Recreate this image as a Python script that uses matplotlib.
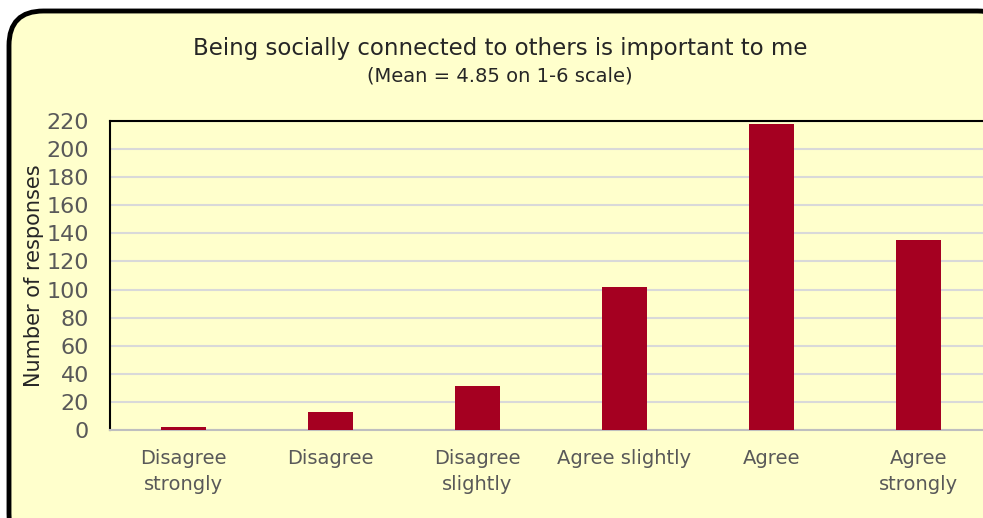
import matplotlib
matplotlib.use("Agg")
import matplotlib.pyplot as plt
from matplotlib.patches import FancyBboxPatch

# data
categories = ["Disagree\nstrongly", "Disagree", "Disagree\nslightly",
              "Agree slightly", "Agree", "Agree\nstrongly"]
responses = [2, 13, 31, 102, 218, 135]
yticks = list(range(0, 221, 20))

W, H = 983, 518
bg = "#FFFFCC"
bar_color = "#A50021"
text_grey = "#595959"

plt.rcParams["font.family"] = ["DejaVu Sans"]

fig = plt.figure(figsize=(W / 100, H / 100), dpi=100)
fig.patch.set_facecolor("white")

# rounded chart frame (runs off the right/bottom edge like the original)
frame = FancyBboxPatch((9 / W, -30 / H), (W + 20) / W, (H - 11 + 30) / H,
                       boxstyle="round,pad=0,rounding_size=0.035",
                       transform=fig.transFigure, facecolor=bg,
                       edgecolor="black", linewidth=3.5, zorder=-5,
                       mutation_aspect=W / H)
fig.patches.append(frame)

ax = fig.add_axes([110 / W, 1 - 430 / H, 882 / W, 309 / H])
ax.set_zorder(2)
ax.set_facecolor(bg)

x = list(range(len(categories)))
ax.bar(x, responses, width=0.31, color=bar_color, zorder=3)

ax.set_xlim(-0.5, len(categories) - 0.5)
ax.set_ylim(0, 220)
ax.set_yticks(yticks)
ax.set_xticks(x)
ax.set_xticklabels(categories, fontsize=14, color=text_grey, linespacing=1.45)
ax.tick_params(axis="y", labelsize=16, labelcolor=text_grey, length=0, pad=15)
ax.tick_params(axis="x", length=0, pad=14)
ax.grid(axis="y", color="#D9D9D9", linewidth=1.5, zorder=0)

for side in ["top", "left", "right"]:
    ax.spines[side].set_color("black")
    ax.spines[side].set_linewidth(1.5)
ax.spines["bottom"].set_color("#BFBFBF")
ax.spines["bottom"].set_linewidth(1.5)

ax.set_ylabel("Number of responses", fontsize=15, color="#262626", labelpad=2)

fig.text(500 / W, 1 - 48 / H, "Being socially connected to others is important to me",
         ha="center", va="center", fontsize=16.5, color="#262626", zorder=3)
fig.text(500 / W, 1 - 76 / H, "(Mean = 4.85 on 1-6 scale)",
         ha="center", va="center", fontsize=14, color="#262626", zorder=3)

fig.savefig("out.png", dpi=100, facecolor=fig.get_facecolor())
